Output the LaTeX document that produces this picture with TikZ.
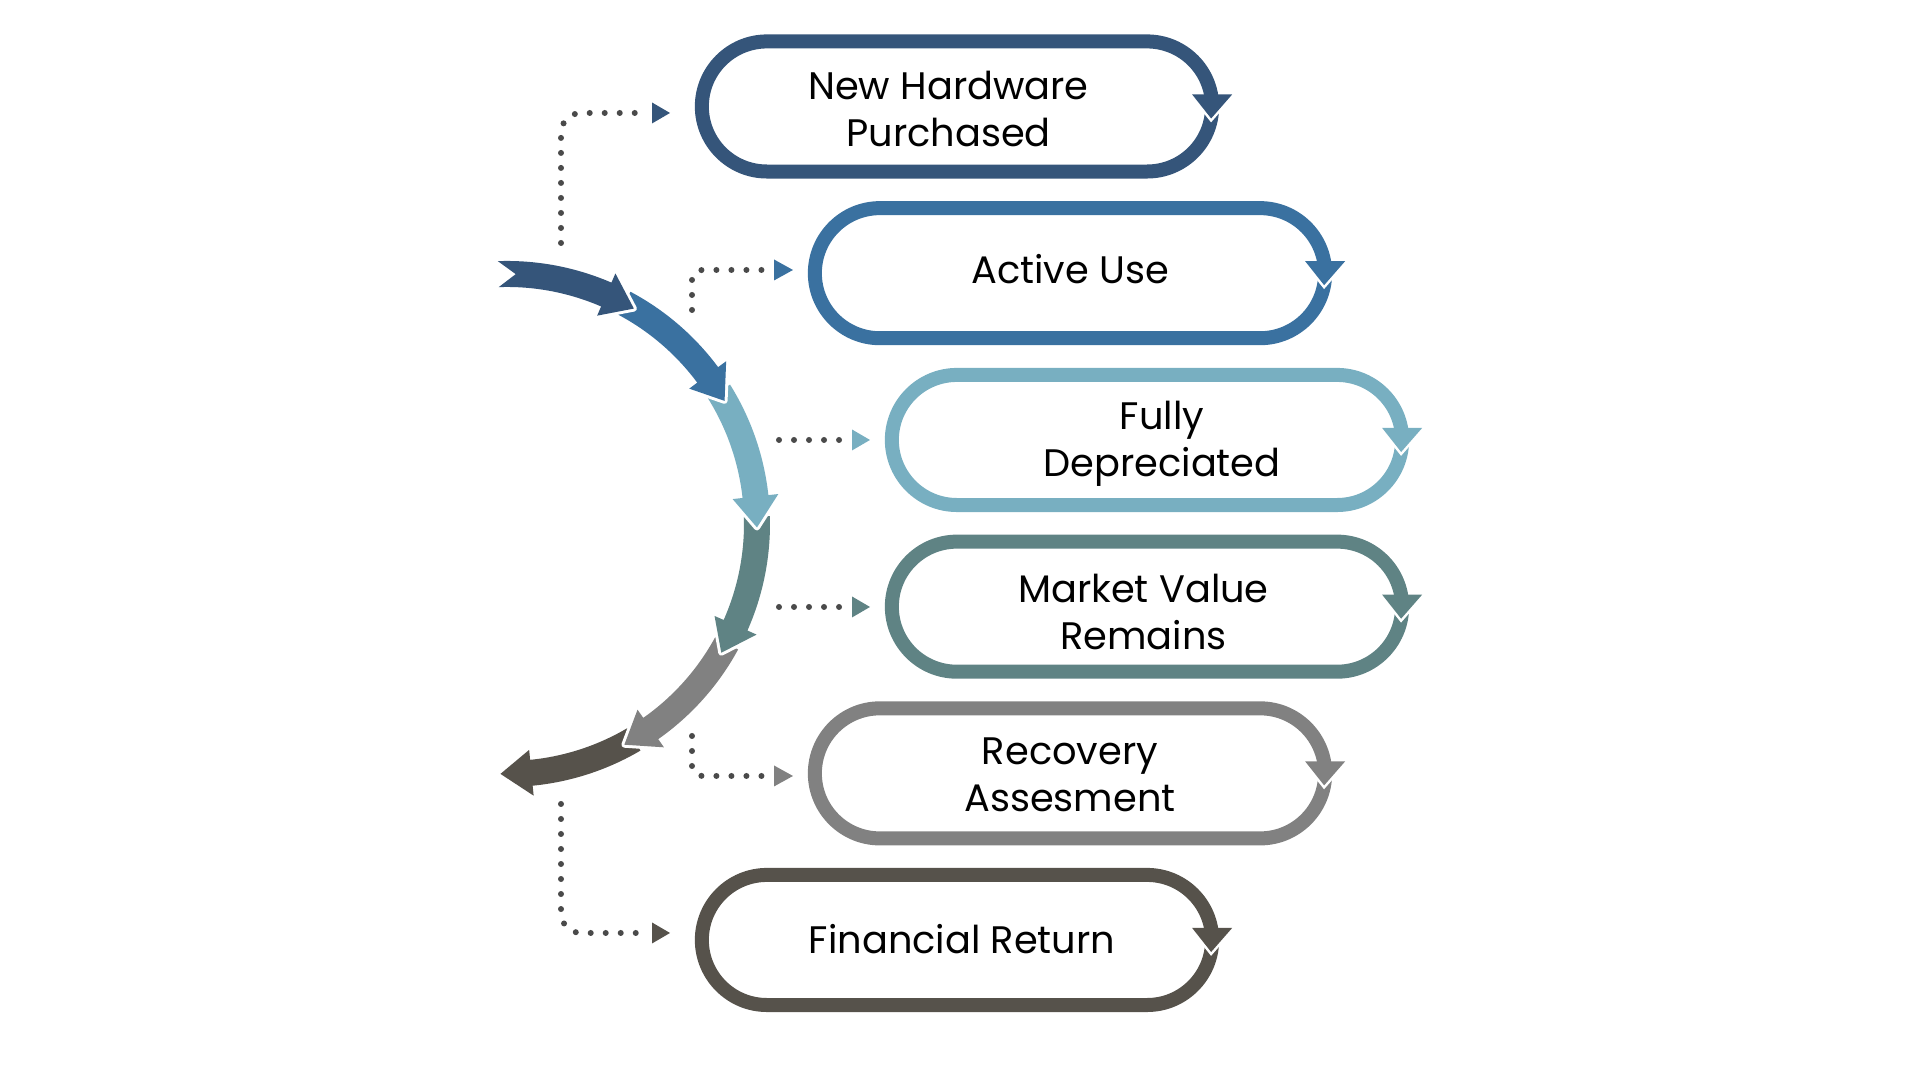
\documentclass[tikz,border=0pt]{standalone}
\usepackage{fontspec}
\setmainfont{Poppins}
\usetikzlibrary{calc}
\definecolor{cA}{HTML}{35557A}
\definecolor{cB}{HTML}{3A71A0}
\definecolor{cC}{HTML}{78AFC1}
\definecolor{cD}{HTML}{5F8384}
\definecolor{cE}{HTML}{818181}
\definecolor{cF}{HTML}{56524B}
\definecolor{dotgray}{HTML}{4A4A4A}
\newcommand\mvtext[3]{\raisebox{#2}[\height][\depth]{\hspace*{#1}#3}}
\begin{document}
\begin{tikzpicture}[x=0.01cm,y=0.01cm,
  pill/.style={draw=#1, rectangle, rounded corners=0.65cm, minimum width=5.1cm,
    minimum height=1.3cm, line width=0.14cm, outer sep=0pt, inner sep=0pt,
    align=center, text=black, font=\fontsize{10.9}{13.3}\selectfont},
  dotline/.style={draw=dotgray, line width=0.06cm, line cap=round,
    dash pattern=on 0pt off 0.15cm},
  seg/.style={fill=#1, preaction={draw=white, line width=0.06cm, line join=round}}
]
\useasboundingbox (0,0) rectangle (1920,1080);

% pills
\node[pill=cA] (p1) at (957,973.5) {\mvtext{0cm}{-0.025cm}{New Hardware}\hspace*{0.17cm}\\\mvtext{0cm}{-0.025cm}{Purchased}\hspace*{0.17cm}};
\node[pill=cB] (p2) at (1070,806.8) {\mvtext{0cm}{0.04cm}{Active Use}};
\node[pill=cC] (p3) at (1147,640) {\mvtext{0.3cm}{-0.037cm}{Fully}\\\mvtext{0.3cm}{-0.037cm}{Depreciated}};
\node[pill=cD] (p4) at (1147,473.3) {\mvtext{0cm}{-0.055cm}{Market Value}\hspace*{0.07cm}\\\mvtext{0cm}{-0.055cm}{Remains}\hspace*{0.07cm}};
\node[pill=cE] (p5) at (1070,306.6) {\mvtext{0cm}{-0.018cm}{Recovery}\\\mvtext{0cm}{-0.018cm}{Assesment}};
\node[pill=cF] (p6) at (957,140) {\mvtext{0.1cm}{0.01cm}{Financial Return}};

% arrowheads on pills
\foreach \n/\c in {p1/cA,p2/cB,p3/cC,p4/cD,p5/cE,p6/cF}{
  \draw[white, line width=0.05cm] ($(\n.east)+(-20,12)$) -- ($(\n.east)+(-1,-12)$) -- ($(\n.east)+(20,12)$);
  \fill[\c] ($(\n.east)+(-20,12)$) -- ($(\n.east)+(-1,-12)$) -- ($(\n.east)+(20,12)$) -- cycle;
}

% curved arc arrows
\begin{scope}[shift={(507,556)}]
\path[seg=cF] (-59.5:263) arc[start angle=-59.5, end angle=-84.4, radius=263] -- (-84.4:273) -- (-91.5:250) -- (-84.4:227) -- (-84.4:237) arc[start angle=-84.4, end angle=-59.5, radius=237] -- cycle;
\path[seg=cE] (-28.5:263) arc[start angle=-28.5, end angle=-54.9, radius=263] -- (-54.9:273) -- (-62:250) -- (-54.9:227) -- (-54.9:237) arc[start angle=-54.9, end angle=-28.5, radius=237] -- cycle;
\path[seg=cD] (1.7:263) arc[start angle=1.7, end angle=-23.9, radius=263] -- (-23.9:273) -- (-31:250) -- (-23.9:227) -- (-23.9:237) arc[start angle=-23.9, end angle=1.7, radius=237] -- cycle;
\path[seg=cC] (32:263) arc[start angle=32, end angle=6.3, radius=263] -- (6.3:273) -- (-0.8:250) -- (6.3:227) -- (6.3:237) arc[start angle=6.3, end angle=32, radius=237] -- cycle;
\path[seg=cB] (62:263) arc[start angle=62, end angle=36.6, radius=263] -- (36.6:273) -- (29.5:250) -- (36.6:227) -- (36.6:237) arc[start angle=36.6, end angle=62, radius=237] -- cycle;
\path[seg=cA] (92:263) arc[start angle=92, end angle=66.6, radius=263] -- (66.6:273) -- (59.5:250) -- (66.6:227) -- (66.6:237) arc[start angle=66.6, end angle=92, radius=237] -- (88:250) -- cycle;
\end{scope}

% dotted connectors
\coordinate (c1s) at (561,837);  \coordinate (c1e) at (636,967);
\coordinate (c2s) at (692,770);  \coordinate (c2e) at (762,810);
\coordinate (c3s) at (779,640);  \coordinate (c3e) at (840,640);
\coordinate (c4s) at (779,473);  \coordinate (c4e) at (840,473);
\coordinate (c5s) at (692,344);  \coordinate (c5e) at (762,304);
\coordinate (c6s) at (561,276);  \coordinate (c6e) at (636,147);

\draw[dotline, rounded corners=0.2cm] (c1s) |- (c1e);
\draw[dotline, rounded corners=0.1cm] (c2s) |- (c2e);
\draw[dotline] (c3s) -- (c3e);
\draw[dotline] (c4s) -- (c4e);
\draw[dotline, rounded corners=0.1cm] (c5s) |- (c5e);
\draw[dotline, rounded corners=0.2cm] (c6s) |- (c6e);

% connector arrowheads
\fill[cA] ($(c1e)+(16,10.5)$) -- ($(c1e)+(34,0)$) -- ($(c1e)+(16,-10.5)$) -- cycle;
\fill[cB] ($(c2e)+(12,10.5)$) -- ($(c2e)+(31,0)$) -- ($(c2e)+(12,-10.5)$) -- cycle;
\fill[cC] ($(c3e)+(12,10.5)$) -- ($(c3e)+(30,0)$) -- ($(c3e)+(12,-10.5)$) -- cycle;
\fill[cD] ($(c4e)+(12,10.5)$) -- ($(c4e)+(30,0)$) -- ($(c4e)+(12,-10.5)$) -- cycle;
\fill[cE] ($(c5e)+(12,10.5)$) -- ($(c5e)+(31,0)$) -- ($(c5e)+(12,-10.5)$) -- cycle;
\fill[cF] ($(c6e)+(16,10.5)$) -- ($(c6e)+(34,0)$) -- ($(c6e)+(16,-10.5)$) -- cycle;
\end{tikzpicture}
\end{document}
